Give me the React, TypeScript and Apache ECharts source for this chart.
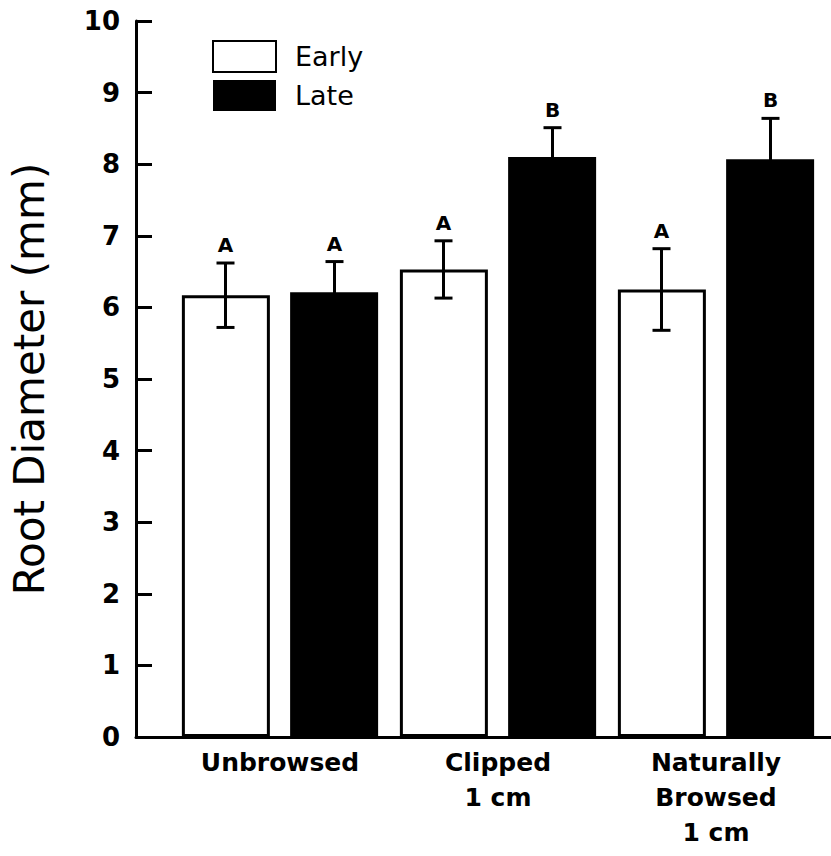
import React, { useEffect, useRef } from "react";
import * as echarts from "echarts";

const categories = ["Unbrowsed", "Clipped\n1 cm", "Naturally\nBrowsed\n1 cm"];
const seriesNames = ["Early", "Late"];
const earlyValues = [6.17, 6.53, 6.25];
const lateValues = [6.21, 8.1, 8.07];
const earlyErrors = [0.45, 0.4, 0.57];
const lateErrors = [0.43, 0.41, 0.57];
const earlyLetters = ["A", "A", "A"];
const lateLetters = ["A", "B", "B"];
const yMin = 0;
const yMax = 10;
const yInterval = 1;
const yTitle = "Root Diameter (mm)";

const FONT = "DejaVu Sans";

function errorSeries(values: number[], errors: number[], letters: string[], side: number) {
  return {
    type: "custom",
    xAxisIndex: 1,
    yAxisIndex: 1,
    z: 5,
    silent: true,
    data: values.map((v, i) => [i, v, errors[i]]),
    encode: { x: 0, y: 1 },
    renderItem: (params: any, api: any) => {
      const i = api.value(0);
      const v = api.value(1);
      const e = api.value(2);
      const catW = api.size([1, 0])[0];
      const dx = (side * catW) / 4;
      const top = api.coord([i, v + e]);
      const bot = api.coord([i, v - e]);
      const x = top[0] + dx;
      const cap = 9;
      const ls = { stroke: "#000", lineWidth: 3 };
      return {
        type: "group",
        children: [
          { type: "line", shape: { x1: x, y1: top[1], x2: x, y2: bot[1] }, style: ls },
          { type: "line", shape: { x1: x - cap, y1: top[1], x2: x + cap, y2: top[1] }, style: ls },
          { type: "line", shape: { x1: x - cap, y1: bot[1], x2: x + cap, y2: bot[1] }, style: ls },
          {
            type: "text",
            style: {
              x: x,
              y: top[1] - 8,
              text: letters[params.dataIndex],
              fill: "#000",
              font: `bold 20px "${FONT}"`,
              align: "center",
              verticalAlign: "bottom",
            },
          },
        ],
      };
    },
  };
}

export default function App() {
  const ref = useRef<HTMLDivElement>(null);
  useEffect(() => {
    if (!ref.current) return;
    const chart = echarts.init(ref.current, null, { renderer: "svg" });
    const option: any = {
      animation: false,
      backgroundColor: "#fff",
      textStyle: { fontFamily: FONT, color: "#000" },
      grid: [
        { left: 132, right: 0, top: 21, bottom: 119 },
        { left: 171, right: 6, top: 21, bottom: 119 },
      ],
      legend: {
        data: seriesNames,
        orient: "vertical",
        left: 212,
        top: 40,
        padding: 0,
        itemWidth: 63,
        itemHeight: 31,
        itemGap: 7,
        icon: "rect",
        textStyle: { fontSize: 27, color: "#000", fontFamily: FONT, padding: [0, 0, 0, 14] },
      },
      xAxis: [
        {
          gridIndex: 0,
          type: "value",
          min: 0,
          max: 1,
          axisLine: { show: true, onZero: false, lineStyle: { color: "#000", width: 3 } },
          axisTick: { show: false },
          axisLabel: { show: false },
          splitLine: { show: false },
        },
        {
          gridIndex: 1,
          type: "category",
          data: categories,
          axisLine: { show: false },
          axisTick: { show: false },
          axisLabel: {
            margin: 8,
            fontSize: 25,
            lineHeight: 35,
            fontWeight: "bold",
            color: "#000",
            fontFamily: FONT,
          },
        },
      ],
      yAxis: [
        {
          gridIndex: 0,
          type: "value",
          min: yMin,
          max: yMax,
          interval: yInterval,
          name: yTitle,
          nameLocation: "middle",
          nameGap: 86,
          nameTextStyle: { fontSize: 42, color: "#000", fontFamily: FONT },
          axisLine: { show: true, lineStyle: { color: "#000", width: 3 } },
          axisTick: { show: true, inside: true, length: 16, lineStyle: { color: "#000", width: 3 } },
          axisLabel: { margin: 16, fontSize: 26, fontWeight: "bold", color: "#000", fontFamily: FONT },
          splitLine: { show: false },
        },
        {
          gridIndex: 1,
          type: "value",
          min: yMin,
          max: yMax,
          interval: yInterval,
          show: false,
        },
      ],
      series: [
        {
          name: seriesNames[0],
          type: "bar",
          xAxisIndex: 1,
          yAxisIndex: 1,
          data: earlyValues,
          barWidth: 88,
          barGap: "23%",
          itemStyle: { color: "#fff", borderColor: "#000", borderWidth: 3 },
        },
        {
          name: seriesNames[1],
          type: "bar",
          xAxisIndex: 1,
          yAxisIndex: 1,
          data: lateValues,
          barWidth: 88,
          barGap: "23%",
          itemStyle: { color: "#000", borderColor: "#000", borderWidth: 0 },
        },
        errorSeries(earlyValues, earlyErrors, earlyLetters, -1),
        errorSeries(lateValues, lateErrors, lateLetters, 1),
      ],
    };
    chart.setOption(option);
    return () => chart.dispose();
  }, []);
  return (
    <div
      ref={ref}
      style={{ position: "fixed", left: 0, top: 0, width: 831, height: 856, background: "#fff" }}
    />
  );
}
